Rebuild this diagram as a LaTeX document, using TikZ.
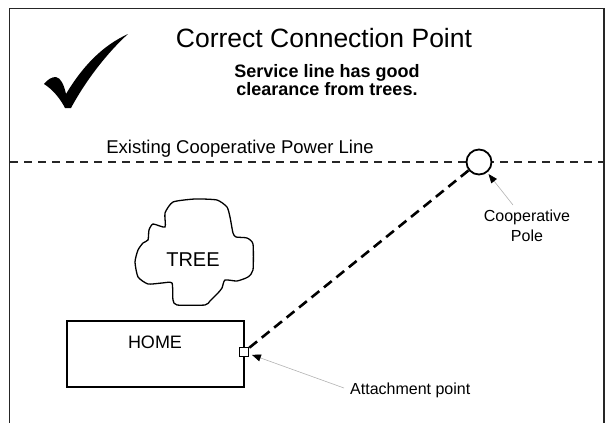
\documentclass[tikz,border=0pt]{standalone}
\usepackage{fontspec}
\setmainfont{Liberation Sans}
\usetikzlibrary{arrows.meta}
\begin{document}
\begin{tikzpicture}[x=1pt,y=-1pt,
  frameline/.style={draw=black!85, line width=1.3pt},
  powerline/.style={draw=black!85, line width=1.3pt, dash pattern=on 8pt off 6pt},
  service/.style={draw=black, line width=2.6pt, dash pattern=on 10pt off 6pt},
  polestyle/.style={circle, draw=black, line width=1.8pt, fill=white, minimum size=25pt, inner sep=0pt},
  attbox/.style={draw=black, fill=white, line width=1.2pt, minimum size=9pt, inner sep=0pt},
  homebox/.style={draw=black, line width=1.5pt, minimum width=177pt, minimum height=66pt, inner sep=0pt},
  treeline/.style={draw=black, line width=1.3pt},
  callout/.style={draw=black!30, line width=0.6pt, -{Triangle[length=9pt,width=7pt,color=black]}},
  lbl/.style={inner sep=0pt, text=black}
]
\useasboundingbox (0,0) rectangle (606,423);

% frame (open at the bottom)
\coordinate (fbl) at (9.5,423);
\coordinate (ftl) at (9.5,8.5);
\coordinate (ftr) at (604,8.5);
\coordinate (fbr) at (604,423);
\draw[frameline] (fbl) -- (ftl) -- (ftr) -- (fbr);

% check mark
\fill[black] (44,84) .. controls (48,79) and (52,77) .. (56,77)
  .. controls (61,78) and (64,85) .. (66,94)
  .. controls (84,64) and (104,45) .. (128,34)
  .. controls (108,52) and (86,80) .. (71,108)
  -- (65,108)
  .. controls (60,98) and (52,89) .. (44,84) -- cycle;

% texts at the top
\node[lbl, anchor=base, font=\fontsize{26.5}{30}\selectfont] (title) at (324,47) {Correct Connection Point};
\node[lbl, anchor=north, align=center, font=\fontsize{18}{18}\selectfont\bfseries] (sub) at (327,64) {Service line has good\\clearance from trees.};
\node[lbl, anchor=base, font=\fontsize{18.5}{22}\selectfont] (plabel) at (240,153) {Existing Cooperative Power Line};

% power line and pole
\coordinate (plw) at (10,162);
\coordinate (ple) at (604,162);
\draw[powerline] (plw) -- (ple);
\node[polestyle] (pole) at (479,162) {};

% tree
\draw[treeline] plot[smooth cycle, tension=0.35] coordinates {
 (173,202) (195,199) (217,200) (227,207) (230,217) (233,233) (236,237)
 (247,238) (253,244) (253,270) (248,277) (237,281) (225,280) (222,288)
 (218,293) (210,301) (205,305) (177,305) (173,300) (172,283) (162,283)
 (148,284) (138,277) (135,262) (138,250) (143,243) (148,240) (149,230)
 (153,224) (165,227) (165,213)};
\node[lbl, font=\fontsize{20}{24}\selectfont] (treelbl) at (193,259.5) {TREE};

% home
\node[homebox] (home) at (155.5,354) {};
\node[lbl, anchor=base, font=\fontsize{18}{22}\selectfont] (homelbl) at (155,348) {HOME};
\node[attbox] (att) at (244,352) {};

% service line
\draw[service] (pole) -- (att);

% callouts
\node[lbl, anchor=north, align=center, font=\fontsize{16}{20}\selectfont] (polelbl) at (527,210) {Cooperative\\Pole};
\node[lbl, anchor=base west, font=\fontsize{16}{20}\selectfont] (attlbl) at (350,394) {Attachment point};
\coordinate (polecall) at (513,205);
\coordinate (attcall) at (344,388);
\draw[callout, shorten >=2pt] (polecall) -- (pole);
\draw[callout, shorten >=3pt] (attcall) -- (att);
\end{tikzpicture}
\end{document}
